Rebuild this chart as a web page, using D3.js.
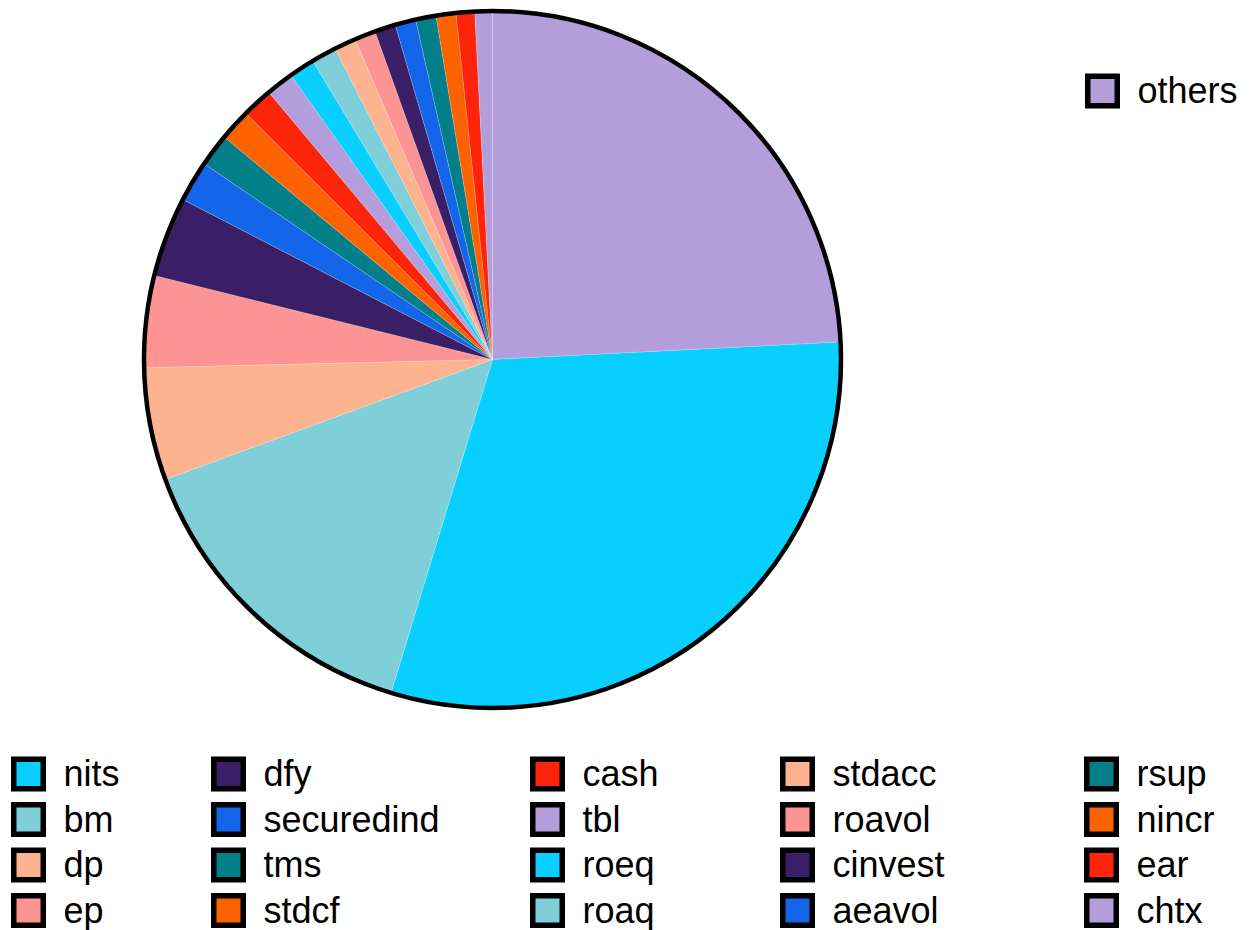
<!DOCTYPE html>
<html>
<head>
<meta charset="utf-8">
<script src="https://cdn.jsdelivr.net/npm/d3@7"></script>
<style>
  html, body { margin: 0; padding: 0; background: #fff; }
  svg { display: block; }
</style>
</head>
<body>
<svg id="chart" width="1250" height="930"></svg>
<script>
// ---- data ----
const categories = ["nits", "bm", "dp", "ep", "dfy", "securedind", "tms", "stdcf", "cash", "tbl",
                    "roeq", "roaq", "stdacc", "roavol", "cinvest", "aeavol", "rsup", "nincr", "ear", "chtx"];
const values = [30.5, 14.7, 5.22, 4.25, 3.71, 1.90, 1.53, 1.47, 1.42, 1.28,
                1.19, 1.17, 1.00, 0.98, 0.97, 0.96, 0.95, 0.92, 0.86, 0.81];
const othersLabel = "others";
const othersValue = 24.2;
const palette = ["#B39DDB", "#08CFFD", "#7ECFD8", "#FDB290", "#FD9494",
                 "#3A1F66", "#1365E9", "#027F89", "#FD6200", "#FD2409"];

// ---- build ----
const slices = [{ label: othersLabel, value: othersValue, idx: 0 }]
  .concat(categories.map((c, i) => ({ label: c, value: values[i], idx: i + 1 })));
const color = d3.scaleOrdinal().domain(d3.range(slices.length)).range(palette);

const svg = d3.select("#chart");
const cx = 492.5, cy = 359.5, R = 348.5;

const pie = d3.pie().sort(null).value(d => d.value).startAngle(0).endAngle(2 * Math.PI);
const arc = d3.arc().innerRadius(0).outerRadius(R);

const g = svg.append("g").attr("transform", `translate(${cx},${cy})`);
g.selectAll("path.slice").data(pie(slices)).join("path")
  .attr("class", "slice")
  .attr("d", arc)
  .attr("fill", d => color(d.data.idx))
  .attr("stroke", "#fff")
  .attr("stroke-opacity", 0.3)
  .attr("stroke-width", 0.6);
g.append("circle").attr("r", R).attr("fill", "none").attr("stroke", "#000").attr("stroke-width", 4.5);

// ---- legend ----
const fontFamily = "'Liberation Sans', Arial, Helvetica, sans-serif";
const fontSize = 36;
const sw = 5.5, sq = 29.5;

function legendItem(L, y, d) {
  const it = svg.append("g").attr("transform", `translate(${L},${y})`);
  it.append("rect").attr("x", sw / 2).attr("y", -sq / 2).attr("width", sq).attr("height", sq)
    .attr("fill", color(d.idx)).attr("stroke", "#000").attr("stroke-width", sw);
  it.append("text").attr("x", 52.5).attr("y", 12)
    .attr("font-family", fontFamily).attr("font-size", fontSize).attr("fill", "#000")
    .text(d.label);
}

legendItem(1085, 91, slices[0]);

const colX = [11, 211, 530, 780, 1084];
const rowY0 = 774, rowStep = 45.5;
slices.slice(1).forEach((d, i) => {
  const col = Math.floor(i / 4), row = i % 4;
  legendItem(colX[col], rowY0 + row * rowStep, d);
});
</script>
</body>
</html>
